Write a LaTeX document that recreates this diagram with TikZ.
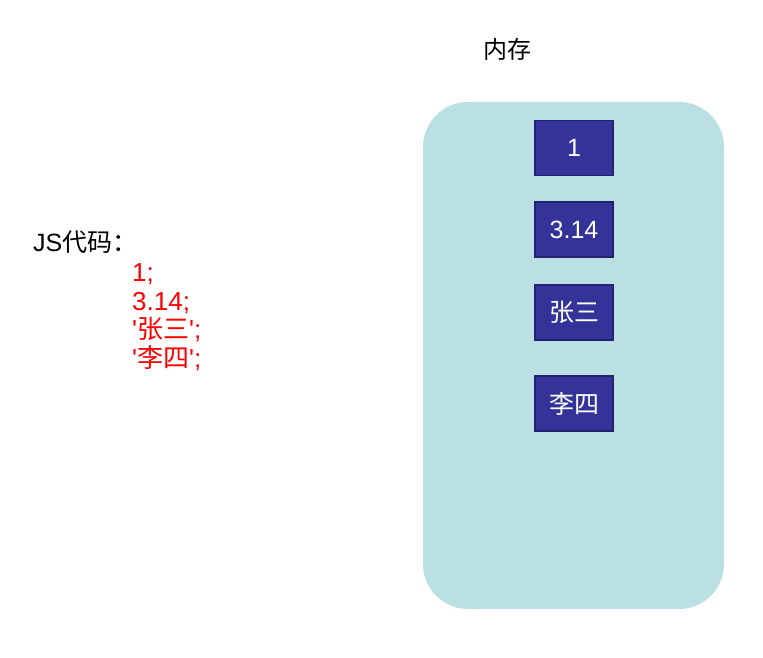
\documentclass[tikz,border=0pt]{standalone}
\usepackage{fontspec}
\setmainfont{Liberation Sans}
\newfontfamily\cjk{Noto Sans CJK SC}
\usepackage{tikz}
\usetikzlibrary{positioning}
\definecolor{memfill}{HTML}{BAE0E3}
\definecolor{cellfill}{HTML}{333399}
\definecolor{celldraw}{HTML}{22226E}
\tikzset{
    memory/.style={draw=none, fill=memfill, rounded corners=45pt},
    cell/.style={draw=celldraw, line width=1.5pt, fill=cellfill, text=white,
        minimum width=78pt, minimum height=55pt, inner sep=0pt,
        font=\fontsize{25}{28}\selectfont},
    label text/.style={inner sep=0pt, font=\fontsize{25}{28}\selectfont},
    code text/.style={inner sep=0pt, text=red, font=\fontsize{26}{29}\selectfont}}

\begin{document}
\begin{tikzpicture}[x=1pt, y=-1pt]
        \useasboundingbox (0,0) rectangle (763,658);

            % memory area
            \fill[memory] (423,102) rectangle (724,609);
            \node[label text, font=\fontsize{24}{28}\selectfont, anchor=base] (title) at (507,59) {\cjk 内存};

            \node[cell] (v1) at (574,148) {1};
            \node[cell] (v2) at (574,229.5) {3.14};
            \node[cell] (v3) at (574,312.5) {\cjk 张三};
            \node[cell] (v4) at (574,403.5) {\cjk 李四};

            % source code
            \node[label text, anchor=base west] (js) at (33,251) {JS{\cjk 代码：}};
            \node[code text, anchor=base west] (c1) at (132,281) {1;};
            \node[code text, anchor=base west] (c2) at (132,310) {3.14;};
            \node[code text, anchor=base west] (c3) at (132,338) {\textquotesingle{\cjk 张三}\textquotesingle;};
            \node[code text, anchor=base west] (c4) at (132,367) {\textquotesingle{\cjk 李四}\textquotesingle;};

        \end{tikzpicture}
\end{document}
